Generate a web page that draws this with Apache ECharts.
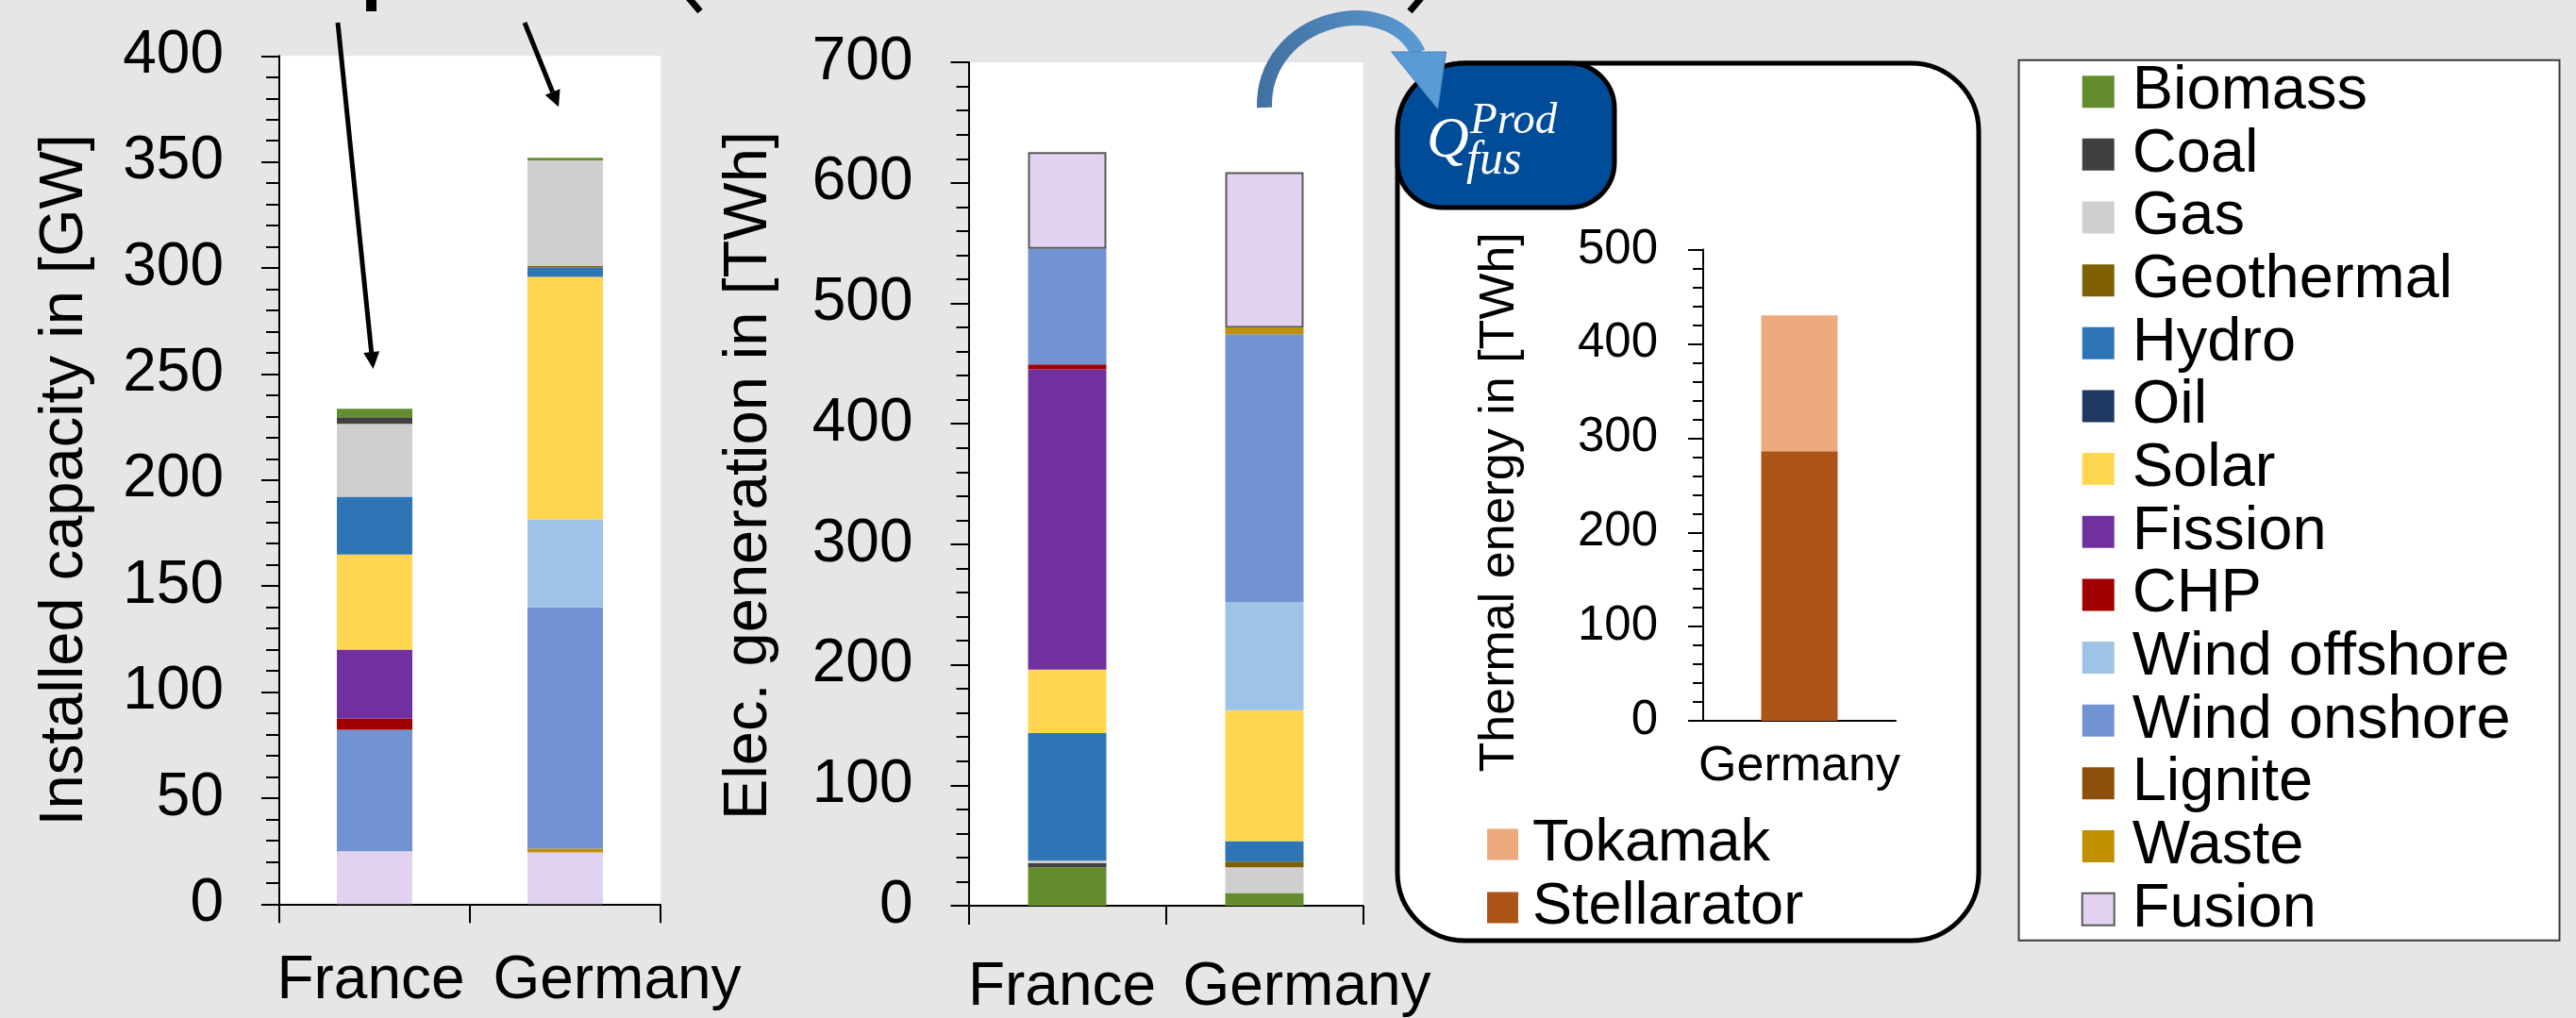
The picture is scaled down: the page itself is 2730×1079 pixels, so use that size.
<!DOCTYPE html>
<html>
<head>
<meta charset="utf-8">
<script src="https://cdn.jsdelivr.net/npm/echarts@6/dist/echarts.min.js"></script>
<style>
  html, body { margin: 0; padding: 0; background: #e6e6e6; }
  #main { width: 2730px; height: 1079px; }
</style>
</head>
<body>
<div id="main"></div>
<script>
// ---- data ----
const countries = ['France', 'Germany'];
const techNames = ['Biomass', 'Coal', 'Gas', 'Geothermal', 'Hydro', 'Oil', 'Solar', 'Fission',
  'CHP', 'Wind offshore', 'Wind onshore', 'Lignite', 'Waste', 'Fusion'];
const techColors = ['#638C2E', '#404040', '#D0CECE', '#7F6000', '#2E75B6', '#203864', '#FFD652',
  '#7030A0', '#A00000', '#9DC3E6', '#7193D1', '#8B5009', '#BF9000', '#E2D2F2'];

// installed capacity in GW (same order as techNames)
const capFrance  = [4.0, 3.1, 34.4, 0, 27.2, 0, 44.9, 32.6, 5.2, 0, 57.3, 0, 0, 24.9];
const capGermany = [1.2, 0, 49.8, 0.7, 4.5, 0, 114.3, 0, 0, 41.5, 113.8, 0, 1.8, 24.4];

// electricity generation in TWh
const genFrance  = [31.9, 3.5, 1.9, 0, 106.1, 0, 52.6, 249.1, 4.1, 0, 96.0, 0, 0, 80.2];
const genGermany = [10.5, 0, 21.4, 4.8, 16.9, 0, 108.6, 0, 0, 89.5, 222.6, 0, 5.4, 129.1];

// thermal fusion energy in TWh
const thermalCountries = ['Germany'];
const fusionTypes = ['Tokamak', 'Stellarator'];
const fusionColors = ['#EDAB7D', '#AD5419'];
const thermalTokamak = [144.3];
const thermalStellarator = [286.0];

const FONT = '"Liberation Sans", Arial, Helvetica, sans-serif';
const SERIF = '"Liberation Serif", "Times New Roman", serif';

function valueAxis(grid, max, step, tickLen, minorLen, size, margin, name, gap, pad) {
  return {
    type: 'value', gridIndex: grid, min: 0, max: max, interval: step,
    name: name, nameLocation: 'middle', nameGap: gap,
    nameTextStyle: { fontSize: size + 1, fontFamily: FONT, color: '#000', padding: pad },
    axisLine: { show: true, lineStyle: { color: '#000', width: 2 } },
    axisTick: { show: true, length: tickLen, lineStyle: { color: '#000', width: 2 } },
    minorTick: { show: true, splitNumber: 5, length: minorLen, lineStyle: { color: '#000', width: 2 } },
    splitLine: { show: false },
    axisLabel: { fontSize: size, fontFamily: FONT, color: '#000', margin: margin }
  }
}

function catAxis(grid, cats, margin, size, ticks) {
  return {
    type: 'category', gridIndex: grid, data: cats,
    axisLine: { show: true, lineStyle: { color: '#000', width: 2 } },
    axisTick: { show: ticks, length: 20, lineStyle: { color: '#000', width: 2 } },
    axisLabel: { fontSize: size, fontFamily: FONT, color: '#000', margin: margin, interval: 0 }
  }
}

let series = []
// capacity chart: stacked from Fusion at the bottom up to Biomass
for (let i = techNames.length - 1; i >= 0; i--) {
  series.push({
    name: techNames[i], type: 'bar', stack: 'cap', xAxisIndex: 0, yAxisIndex: 0,
    barWidth: '39.6%', data: [capFrance[i], capGermany[i]],
    itemStyle: { color: techColors[i] }
  })
}
// generation chart: stacked from Biomass at the bottom up to Fusion
for (let i = 0; i < techNames.length; i++) {
  let st = { color: techColors[i] }
  if (techNames[i] === 'Fusion') { st.borderColor = '#595959'; st.borderWidth = 2 }
  series.push({
    name: techNames[i], type: 'bar', stack: 'gen', xAxisIndex: 1, yAxisIndex: 1,
    barWidth: '39.7%', data: [genFrance[i], genGermany[i]], itemStyle: st
  })
}
series.push({
  name: fusionTypes[1], type: 'bar', stack: 'th', xAxisIndex: 2, yAxisIndex: 2,
  barWidth: '39.7%', data: thermalStellarator, itemStyle: { color: fusionColors[1] }
})
series.push({
  name: fusionTypes[0], type: 'bar', stack: 'th', xAxisIndex: 2, yAxisIndex: 2,
  barWidth: '39.7%', data: thermalTokamak, itemStyle: { color: fusionColors[0] }
})

const blueGrad = new echarts.graphic.LinearGradient(0, 0, 1, 0, [
  { offset: 0, color: '#41709F' }, { offset: 1, color: '#5B9BD5' }
])

const option = {
  backgroundColor: '#e6e6e6',
  animation: false,
  grid: [
    { left: 296, top: 59.3, width: 404, height: 899, show: true, backgroundColor: '#fff', borderWidth: 0 },
    { left: 1026.5, top: 66.1, width: 418, height: 897.4, show: true, backgroundColor: '#fff', borderWidth: 0 },
    { left: 1805, top: 264.5, width: 204, height: 499.6 }
  ],
  xAxis: [
    catAxis(0, [
      { value: countries[0], textStyle: { padding: [0, 8, 0, 0] } },
      { value: countries[1], textStyle: { padding: [0, 0, 0, 110] } }
    ], 50, 64, true),
    catAxis(1, [
      { value: countries[0], textStyle: { padding: [0, 11, 0, 0] } },
      { value: countries[1], textStyle: { padding: [0, 0, 0, 90] } }
    ], 55, 64, true),
    catAxis(2, thermalCountries, 23, 52, false)
  ],
  yAxis: [
    valueAxis(0, 400, 50, 19, 14, 64, 59, 'Installed capacity in [GW]', 194, [0, 0, 0, 0]),
    valueAxis(1, 700, 100, 19, 13, 64, 59, 'Elec. generation in [TWh]', 200, [0, 0, 0, 18]),
    valueAxis(2, 500, 100, 16, 11, 51, 48, 'Thermal energy in [TWh]', 189, [0, 36, 0, 0])
  ],
  legend: [
    {
      data: techNames.map(n => n === 'Fusion'
        ? { name: n, itemStyle: { borderColor: '#595959', borderWidth: 2 } } : n),
      orient: 'vertical', left: 2205.7, top: 64.7, padding: 0,
      itemWidth: 34, itemHeight: 34, itemGap: 1.65, icon: 'rect', selectedMode: false,
      textStyle: { fontSize: 65, fontFamily: FONT, color: '#000', padding: [0, 0, 0, 14] }
    },
    {
      data: fusionTypes,
      orient: 'vertical', left: 1576, top: 863.5, padding: 0,
      itemWidth: 33, itemHeight: 33, itemGap: 4, icon: 'rect', selectedMode: false,
      textStyle: { fontSize: 63, fontFamily: FONT, color: '#000', padding: [0, 0, 0, 10] }
    }
  ],
  graphic: [
    // frame of the big legend
    { type: 'rect', z: -5, shape: { x: 2139.5, y: 63.7, width: 573, height: 933 },
      style: { fill: '#fff', stroke: '#3a3a3a', lineWidth: 2 } },
    // rounded box of the thermal chart
    { type: 'rect', z: -5, shape: { x: 1481, y: 67, width: 616, height: 930, r: 72 },
      style: { fill: '#fff', stroke: '#000', lineWidth: 5 } },
    // blue label
    { type: 'rect', z: 5, shape: { x: 1481, y: 67, width: 230, height: 153, r: [72, 48, 48, 48] },
      style: { fill: '#004C98', stroke: '#000', lineWidth: 5 } },
    { type: 'text', z: 6, style: { text: 'Q', x: 1512, y: 150, fill: '#fff', fontSize: 62,
      fontStyle: 'italic', fontFamily: SERIF, align: 'left', verticalAlign: 'middle' } },
    { type: 'text', z: 6, style: { text: 'Prod', x: 1558, y: 129, fill: '#fff', fontSize: 47,
      fontStyle: 'italic', fontFamily: SERIF, align: 'left', verticalAlign: 'middle' } },
    { type: 'text', z: 6, style: { text: 'fus', x: 1554, y: 171, fill: '#fff', fontSize: 50,
      fontStyle: 'italic', fontFamily: SERIF, align: 'left', verticalAlign: 'middle' } },
    // blue curved arrow
    { type: 'bezierCurve', z: 10,
      shape: { x1: 1340, y1: 114, cpx1: 1338, cpy1: 18, cpx2: 1470, cpy2: -12, x2: 1503, y2: 56 },
      style: { stroke: blueGrad, lineWidth: 16, fill: null } },
    { type: 'polygon', z: 10, shape: { points: [[1474.6, 55], [1532.6, 55], [1523.7, 115.4]] },
      style: { fill: '#5B9BD5', stroke: '#4A7EBB', lineWidth: 1 } },
    // black arrows pointing at the bars
    { type: 'line', z: 10, shape: { x1: 358, y1: 24, x2: 393.7, y2: 374 },
      style: { stroke: '#000', lineWidth: 5 } },
    { type: 'polygon', z: 10, shape: { points: [[395.5, 391], [402.2, 372.3], [385.2, 374]] },
      style: { fill: '#000' } },
    { type: 'line', z: 10, shape: { x1: 556, y1: 24, x2: 585.6, y2: 97.5 },
      style: { stroke: '#000', lineWidth: 5 } },
    { type: 'polygon', z: 10, shape: { points: [[592, 113.3], [593.5, 94.3], [577.7, 100.7]] },
      style: { fill: '#000' } },
    // bottoms of the cut off heading
    { type: 'rect', z: 10, shape: { x: 388, y: -2, width: 11, height: 14 }, style: { fill: '#000' } },
    { type: 'line', z: 10, shape: { x1: 730, y1: -2, x2: 742, y2: 12 }, style: { stroke: '#000', lineWidth: 7 } },
    { type: 'line', z: 10, shape: { x1: 1506, y1: -2, x2: 1494, y2: 12 }, style: { stroke: '#000', lineWidth: 7 } }
  ],
  series: series
}

const chart = echarts.init(document.getElementById('main'))
chart.setOption(option)
</script>
</body>
</html>
